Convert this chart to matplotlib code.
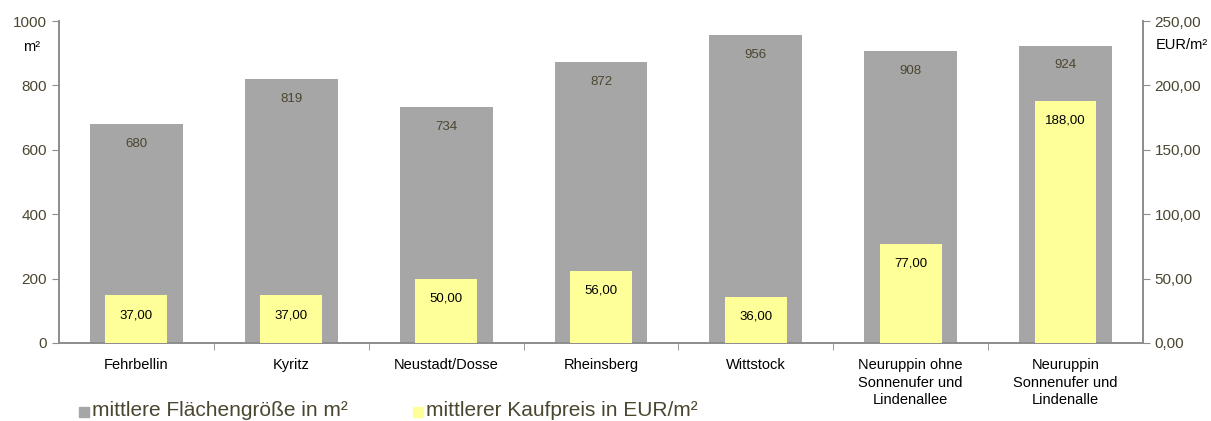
"""
Mittlere Flächengröße und mittlerer Kaufpreis je Ort
"""

import matplotlib
matplotlib.use("Agg")
import matplotlib.pyplot as plt
import numpy as np

plt.rcParams['font.family'] = ['Liberation Sans', 'DejaVu Sans']

orte = ["Fehrbellin", "Kyritz", "Neustadt/Dosse", "Rheinsberg", "Wittstock",
        "Neuruppin ohne\nSonnenufer und\nLindenallee",
        "Neuruppin\nSonnenufer und\nLindenalle"]
flaeche = [680, 819, 734, 872, 956, 908, 924]
kaufpreis = [37.0, 37.0, 50.0, 56.0, 36.0, 77.0, 188.0]

GRAU = "#a6a6a6"
GELB = "#ffff99"
TEXT = "#4a4630"
ACHSE = "#8c8c8c"


def de_zahl(v: float) -> str:
    """Zahl mit Komma als Dezimaltrenner"""
    return f"{v:.2f}".replace(".", ",")


fig = plt.figure(figsize=(12.11, 4.21), dpi=100)
ax = fig.add_axes([0.0487, 0.1853, 0.8951, 0.7647])
ax2 = ax.twinx()

x = np.arange(len(orte))
ax.bar(x, flaeche, width=0.6, color=GRAU, zorder=2)
ax2.bar(x, kaufpreis, width=0.4, color=GELB, zorder=3)

for xi, v in zip(x, flaeche):
    ax.text(xi, v - 62, str(v), ha='center', va='center', fontsize=9.5, color=TEXT)
for xi, v in zip(x, kaufpreis):
    ax2.text(xi, v - 15.5, de_zahl(v), ha='center', va='center', fontsize=9.5, color='black')

ax.set_xlim(-0.5, len(orte) - 0.5)
ax.set_ylim(0, 1000)
ax2.set_ylim(0, 250)
ax.set_yticks(range(0, 1001, 200))
ax2.set_yticks(range(0, 251, 50))
ax2.set_yticklabels([de_zahl(v) for v in range(0, 251, 50)])

# Kategorie-Trennstriche an der x-Achse
ax.set_xticks(x)
ax.set_xticklabels(orte, fontsize=10.5, color='black', linespacing=1.3)
ax.tick_params(axis='x', length=0, pad=11)
ax.set_xticks(np.arange(0.5, len(orte) - 1, 1), minor=True)
ax.tick_params(axis='x', which='minor', length=5, color=ACHSE, direction='out')

ax.tick_params(axis='y', labelsize=11, labelcolor=TEXT, color=ACHSE, length=5)
ax2.tick_params(axis='y', labelsize=11, labelcolor=TEXT, color=ACHSE, length=5)

for a in (ax, ax2):
    a.spines['top'].set_visible(False)
    for s in ('left', 'right', 'bottom'):
        a.spines[s].set_color(ACHSE)
        a.spines[s].set_linewidth(1.2)

fig.text(32 / 1211, 1 - 47 / 421, "m²", fontsize=10.5, ha='center', va='center')
fig.text(1182 / 1211, 1 - 45 / 421, "EUR/m²", fontsize=10.5, ha='center', va='center')

# Legende
fig.patches.append(plt.Rectangle((79 / 1211, 1 - 417 / 421), 10 / 1211, 10 / 421,
                                 transform=fig.transFigure, color=GRAU))
fig.text(92 / 1211, 1 - 411 / 421, "mittlere Flächengröße in m²", fontsize=15,
         color=TEXT, va='center')
fig.patches.append(plt.Rectangle((413 / 1211, 1 - 417 / 421), 10 / 1211, 10 / 421,
                                 transform=fig.transFigure, color=GELB))
fig.text(426 / 1211, 1 - 411 / 421, "mittlerer Kaufpreis in EUR/m²", fontsize=15,
         color=TEXT, va='center')

fig.savefig("out.png", dpi=100)
